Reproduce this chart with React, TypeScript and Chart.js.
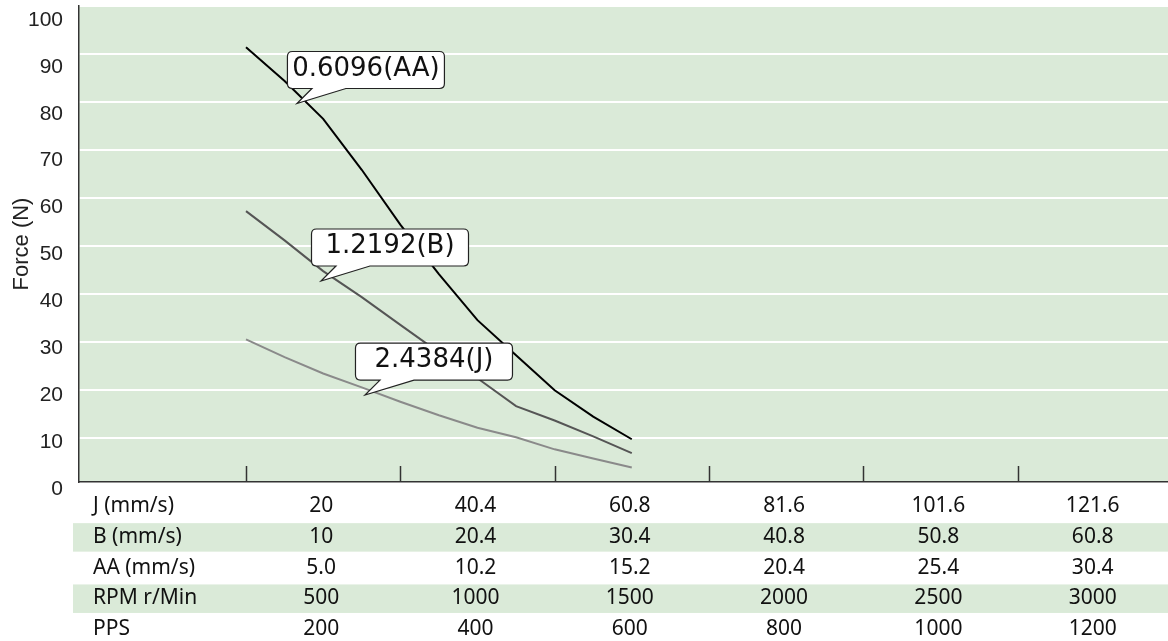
import React, { useEffect, useRef } from "react";
import { Chart, registerables } from "chart.js";
Chart.register(...registerables);

// ---- data ----
const xSteps = [0, 0.25, 0.5, 0.75, 1, 1.25, 1.5, 1.75, 2, 2.25, 2.5];
const forceAA = [91.4, 84.4, 76.5, 65.9, 54.5, 44.2, 34.6, 27.3, 20.0, 14.5, 9.8];
const forceB = [57.3, 51.2, 44.8, 39.4, 33.6, 27.9, 22.5, 16.7, 13.7, 10.4, 6.9];
const forceJ = [30.6, 26.9, 23.5, 20.6, 17.6, 14.8, 12.2, 10.2, 7.7, 5.8, 3.9];
const yTicks = [0, 10, 20, 30, 40, 50, 60, 70, 80, 90, 100];
const xTicks = [0, 1, 2, 3, 4, 5];
const rowLabels = ["J (mm/s)", "B (mm/s)", "AA (mm/s)", "RPM r/Min", "PPS"];
const jSpeeds = ["20", "40.4", "60.8", "81.6", "101.6", "121.6"];
const bSpeeds = ["10", "20.4", "30.4", "40.8", "50.8", "60.8"];
const aaSpeeds = ["5.0", "10.2", "15.2", "20.4", "25.4", "30.4"];
const rpmValues = ["500", "1000", "1500", "2000", "2500", "3000"];
const ppsValues = ["200", "400", "600", "800", "1000", "1200"];
const calloutLabels = ["0.6096(AA)", "1.2192(B)", "2.4384(J)"];
const calloutX = [0.33, 0.486, 0.771];
const calloutY = [79.7, 42.75, 19.0];

const GREEN = "rgb(218,234,216)";
const AXIS = "#333333";

const zeroPad = (s: any) => {
  s.paddingTop = 0;
  s.paddingBottom = 0;
  s.paddingLeft = 0;
  s.paddingRight = 0;
};

const bgPlugin = {
  id: "bg",
  beforeDraw(chart: any) {
    const { ctx, chartArea } = chart;
    ctx.save();
    ctx.fillStyle = GREEN;
    ctx.fillRect(chartArea.left, chartArea.top, chartArea.right - chartArea.left, chartArea.bottom - chartArea.top);
    ctx.restore();
  },
};

const tickMarksPlugin = {
  id: "tickMarks",
  afterDatasetsDraw(chart: any) {
    const { ctx, chartArea } = chart;
    const xs = chart.scales.x;
    ctx.save();
    ctx.strokeStyle = AXIS;
    ctx.lineWidth = 1.5;
    xTicks.forEach((t) => {
      const px = Math.round(xs.getPixelForValue(t)) + 0.5;
      ctx.beginPath();
      ctx.moveTo(px, chartArea.bottom - 16);
      ctx.lineTo(px, chartArea.bottom);
      ctx.stroke();
    });
    ctx.restore();
  },
};

const tablePlugin = {
  id: "table",
  afterDraw(chart: any) {
    const { ctx, width } = chart;
    const xs = chart.scales.x;
    const rows = [jSpeeds, bSpeeds, aaSpeeds, rpmValues, ppsValues];
    ctx.save();
    rows.forEach((vals, i) => {
      const cy = 506.5 + i * 30.65;
      if (i % 2 === 1) {
        ctx.fillStyle = GREEN;
        ctx.fillRect(73, cy - 14, width - 73, 28.5);
      }
      ctx.fillStyle = "#111";
      ctx.font = '21px "Noto Sans"';
      ctx.textBaseline = "middle";
      ctx.textAlign = "left";
      ctx.fillText(rowLabels[i], 93, cy);
      ctx.textAlign = "center";
      vals.forEach((v, k) => {
        ctx.fillText(v, xs.getPixelForValue(k + 0.5) - 2, cy);
      });
    });
    ctx.restore();
  },
};

const calloutPlugin = {
  id: "callouts",
  afterDatasetsDraw(chart: any) {
    const { ctx } = chart;
    const xs = chart.scales.x;
    const ys = chart.scales.y;
    ctx.save();
    calloutLabels.forEach((label, i) => {
      const tx = xs.getPixelForValue(calloutX[i]);
      const ty = ys.getPixelForValue(calloutY[i]);
      const left = tx - 9.5;
      const top = ty - 52;
      const w = 157;
      const h = 37;
      const r = 5;
      const bottom = top + h;
      const right = left + w;
      const b1 = tx + 15;
      const b2 = tx + 49;
      ctx.beginPath();
      ctx.moveTo(left + r, top);
      ctx.lineTo(right - r, top);
      ctx.quadraticCurveTo(right, top, right, top + r);
      ctx.lineTo(right, bottom - r);
      ctx.quadraticCurveTo(right, bottom, right - r, bottom);
      ctx.lineTo(b2, bottom);
      ctx.lineTo(tx, ty);
      ctx.lineTo(b1, bottom);
      ctx.lineTo(left + r, bottom);
      ctx.quadraticCurveTo(left, bottom, left, bottom - r);
      ctx.lineTo(left, top + r);
      ctx.quadraticCurveTo(left, top, left + r, top);
      ctx.closePath();
      ctx.fillStyle = "#ffffff";
      ctx.fill();
      ctx.strokeStyle = "#222";
      ctx.lineWidth = 1.2;
      ctx.stroke();
      ctx.fillStyle = "#111";
      ctx.font = '26px "DejaVu Sans"';
      ctx.textAlign = "center";
      ctx.textBaseline = "middle";
      ctx.fillText(label, left + w / 2, top + h / 2 - 1);
    });
    ctx.restore();
  },
};

export default function App() {
  const ref = useRef<HTMLCanvasElement | null>(null);
  useEffect(() => {
    if (!ref.current) return;
    const mk = (vals: number[]) => xSteps.map((x, i) => ({ x, y: vals[i] }));
    const chart = new Chart(ref.current, {
      type: "line",
      data: {
        datasets: [
          { label: "0.6096(AA)", data: mk(forceAA), borderColor: "#000000", borderWidth: 2, pointRadius: 0, tension: 0, fill: false },
          { label: "1.2192(B)", data: mk(forceB), borderColor: "#555555", borderWidth: 2, pointRadius: 0, tension: 0, fill: false },
          { label: "2.4384(J)", data: mk(forceJ), borderColor: "#8a8a8a", borderWidth: 2, pointRadius: 0, tension: 0, fill: false },
        ],
      },
      options: {
        responsive: false,
        animation: false,
        layout: { padding: { left: 0, top: 6, right: 0, bottom: 159 } },
        plugins: { legend: { display: false }, tooltip: { enabled: false } },
        scales: {
          x: {
            type: "linear",
            min: -1.0823,
            max: 5.975,
            ticks: { display: false },
            grid: { display: false, drawTicks: false },
            border: { display: true, color: AXIS, width: 1.5 },
            afterFit: (s: any) => { s.height = 0; zeroPad(s); },
          },
          y: {
            type: "linear",
            position: "left",
            weight: 0,
            min: 0.9,
            max: 100,
            afterBuildTicks: (s: any) => { s.ticks = yTicks.filter((v) => v >= 0.9).map((v) => ({ value: v })); },
            ticks: { display: false },
            grid: { color: "#ffffff", lineWidth: 2, drawTicks: false },
            border: { display: true, color: AXIS, width: 1.5 },
            afterFit: (s: any) => { s.width = 0; zeroPad(s); },
          },
          yl: {
            type: "linear",
            position: "left",
            weight: 1,
            min: 1.49,
            max: 102.98,
            afterBuildTicks: (s: any) => { s.ticks = yTicks.map((v) => ({ value: v })); },
            ticks: { color: "#222", font: { family: "Liberation Sans", size: 21 }, padding: 16 },
            grid: { display: false, drawTicks: false },
            border: { display: false },
            title: { display: true, text: "Force (N)", color: "#222", font: { family: "Liberation Sans", size: 22 }, padding: { top: 9, bottom: 0 } },
            afterFit: (s: any) => { s.width = 79; zeroPad(s); },
          },
        },
      },
      plugins: [bgPlugin, tickMarksPlugin, calloutPlugin, tablePlugin],
    } as any);
    return () => chart.destroy();
  }, []);
  return (
    <div style={{ position: "absolute", left: 0, top: 0, width: 1168, height: 641, background: "#fff" }}>
      <canvas ref={ref} width={1168} height={641} style={{ width: 1168, height: 641, display: "block" }} />
    </div>
  );
}
